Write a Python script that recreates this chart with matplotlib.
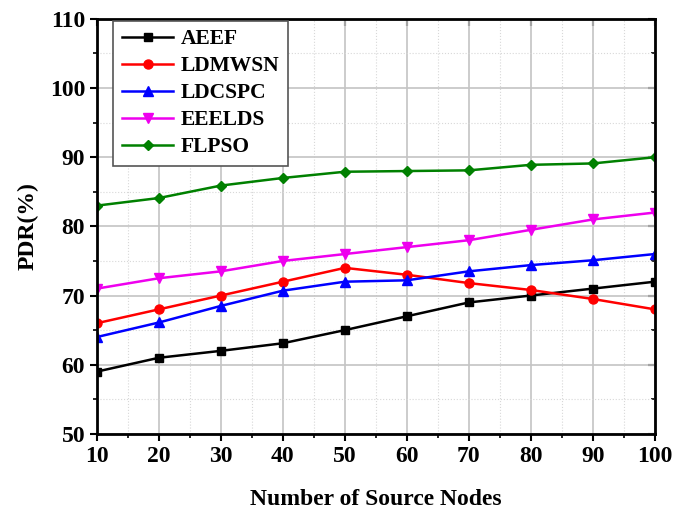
import matplotlib.pyplot as plt
from matplotlib.ticker import MultipleLocator

# Values
nodes = [10, 20, 30, 40, 50, 60, 70, 80, 90, 100]
aeef = [59, 61, 62, 63.1, 65, 67, 69, 70, 71, 72]
ldmwsn = [66, 68, 70, 72, 74, 73, 71.8, 70.8, 69.5, 68]
ldcspc = [64, 66.1, 68.5, 70.7, 72, 72.2, 73.5, 74.4, 75.1, 76]
eeelds = [71, 72.5, 73.5, 75, 76, 77, 78, 79.5, 81, 82]
flpso = [83, 84.1, 85.9, 87, 87.9, 88, 88.1, 88.9, 89.1, 90]

plt.rcParams['font.family'] = 'Liberation Serif'
plt.rcParams['font.weight'] = 'bold'

fig = plt.figure(figsize=(6.73, 5.11), dpi=100)
ax = fig.add_axes([0.144, 0.151, 0.829, 0.812])

lw = 1.8
ax.plot(nodes, aeef, color='black', marker='s', markersize=5.5, lw=lw, label='AEEF')
ax.plot(nodes, ldmwsn, color='red', marker='o', markersize=6.5, lw=lw, label='LDMWSN')
ax.plot(nodes, ldcspc, color='blue', marker='^', markersize=6.5, lw=lw, label='LDCSPC')
ax.plot(nodes, eeelds, color='#ee00ee', marker='v', markersize=6.5, lw=lw, label='EEELDS')
ax.plot(nodes, flpso, color='green', marker='D', markersize=5.5, lw=lw, label='FLPSO')

ax.set_xlim(10, 100)
ax.set_ylim(50, 110)
ax.xaxis.set_major_locator(MultipleLocator(10))
ax.xaxis.set_minor_locator(MultipleLocator(5))
ax.yaxis.set_major_locator(MultipleLocator(10))
ax.yaxis.set_minor_locator(MultipleLocator(5))
ax.grid(True, which='major', color='#c4c4c4', lw=1.2)
ax.grid(True, which='minor', color='#d8d8d8', lw=0.8, linestyle=':')
ax.set_axisbelow(True)

for s in ax.spines.values():
    s.set_linewidth(2)
ax.tick_params(which='major', direction='out', length=5, width=1.5, labelsize=17)
ax.tick_params(which='minor', direction='out', length=3, width=1.2)

# inward ticks on top and right, no labels
top = ax.secondary_xaxis('top')
top.xaxis.set_major_locator(MultipleLocator(10))
top.tick_params(direction='in', length=5, width=1.5, labeltop=False)
right = ax.secondary_yaxis('right')
right.yaxis.set_major_locator(MultipleLocator(10))
right.yaxis.set_minor_locator(MultipleLocator(5))
right.tick_params(which='major', direction='in', length=5, width=1.5, labelright=False)
right.tick_params(which='minor', direction='in', length=3, width=1.2)

ax.set_xlabel('Number of Source Nodes', fontsize=17, fontweight='bold', labelpad=16)
ax.set_ylabel('PDR(%)', fontsize=17, fontweight='bold', labelpad=8)

leg = ax.legend(loc='upper left', bbox_to_anchor=(0.029, 0.996), borderaxespad=0,
                fontsize=15.5, fancybox=False, edgecolor='#555555', framealpha=1,
                handlelength=2.4, handletextpad=0.35, labelspacing=0.32, borderpad=0.4)
leg.get_frame().set_linewidth(1.2)

plt.savefig('out.png', dpi=100)
